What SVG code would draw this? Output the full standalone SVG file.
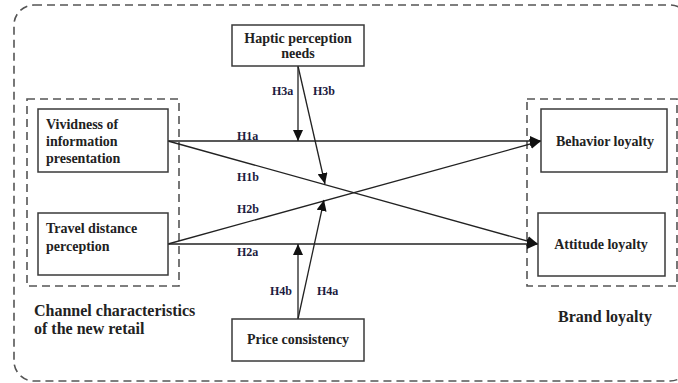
<svg xmlns="http://www.w3.org/2000/svg" width="678" height="383" viewBox="0 0 678 383">
<defs>
<marker id="arr" markerUnits="userSpaceOnUse" markerWidth="12" markerHeight="10" refX="11" refY="5" orient="auto">
<path d="M0,0 L11,5 L0,10 Z" fill="#111"/>
</marker>
<style>
.dash{fill:none;stroke:#555;stroke-width:1.6;stroke-dasharray:8,5}
.box{fill:#fff;stroke:#3a3a3a;stroke-width:1.5}
.nt{font-family:"Liberation Serif","Times New Roman",serif;font-weight:bold;font-size:14px;fill:#222}
.gt{font-family:"Liberation Serif","Times New Roman",serif;font-weight:bold;font-size:16px;fill:#222}
.lb{font-family:"Liberation Serif","Times New Roman",serif;font-weight:bold;font-size:12px;fill:#1c1c40}
.ln{fill:none;stroke:#222;stroke-width:1.3;marker-end:url(#arr)}
</style>
</defs>
<rect width="678" height="383" fill="#fff"/>
<g id="groups">
<rect class="dash" x="14" y="5" width="676" height="376" rx="20"/>
<rect class="dash" x="27" y="99" width="152" height="187"/>
<rect class="dash" x="527" y="99" width="150" height="187"/>
<text class="gt" x="34" y="316">Channel characteristics</text>
<text class="gt" x="34" y="334">of the new retail</text>
<text class="gt" x="605" y="322" text-anchor="middle">Brand loyalty</text>
</g>
<g id="connectors">
<line class="ln" x1="168" y1="141" x2="541" y2="141"/>
<line class="ln" x1="168" y1="141" x2="538" y2="244"/>
<line class="ln" x1="168" y1="244" x2="541" y2="141"/>
<line class="ln" x1="168" y1="244" x2="538" y2="244"/>
<line class="ln" x1="298" y1="66" x2="298" y2="141"/>
<line class="ln" x1="298" y1="66" x2="325" y2="184"/>
<line class="ln" x1="298" y1="319" x2="298" y2="244"/>
<line class="ln" x1="298" y1="319" x2="324" y2="200"/>
<text class="lb" x="272" y="95">H3a</text>
<text class="lb" x="313" y="95">H3b</text>
<text class="lb" x="237" y="140">H1a</text>
<text class="lb" x="237" y="181">H1b</text>
<text class="lb" x="237" y="213">H2b</text>
<text class="lb" x="237" y="256">H2a</text>
<text class="lb" x="270" y="295">H4b</text>
<text class="lb" x="317" y="295">H4a</text>
</g>
<g id="vividness">
<rect class="box" x="38" y="109" width="130" height="63"/>
<text class="nt" x="46" y="129">Vividness of</text>
<text class="nt" x="46" y="146">information</text>
<text class="nt" x="46" y="163">presentation</text>
</g>
<g id="travel">
<rect class="box" x="38" y="213" width="130" height="62"/>
<text class="nt" x="46" y="233">Travel distance</text>
<text class="nt" x="46" y="251">perception</text>
</g>
<g id="haptic">
<rect class="box" x="232" y="25" width="132" height="41"/>
<text class="nt" x="298" y="43" text-anchor="middle">Haptic perception</text>
<text class="nt" x="298" y="58" text-anchor="middle">needs</text>
</g>
<g id="price">
<rect class="box" x="232" y="319" width="132" height="42"/>
<text class="nt" x="298" y="344" text-anchor="middle">Price consistency</text>
</g>
<g id="behavior">
<rect class="box" x="541" y="109" width="126" height="63"/>
<text class="nt" x="605" y="146" text-anchor="middle">Behavior loyalty</text>
</g>
<g id="attitude">
<rect class="box" x="538" y="213" width="127" height="63"/>
<text class="nt" x="601" y="249" text-anchor="middle">Attitude loyalty</text>
</g>
</svg>
